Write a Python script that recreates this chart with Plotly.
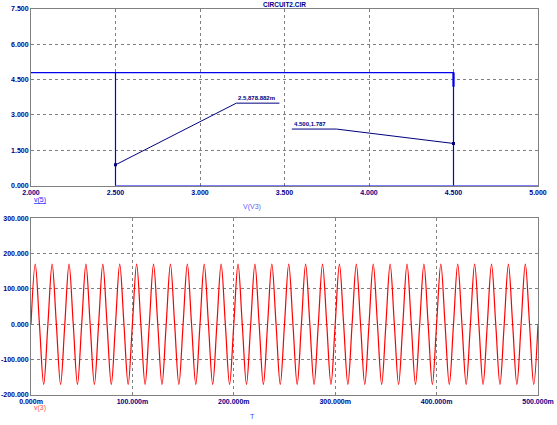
import plotly.graph_objects as go

# ---------------- data ----------------
# top plot: v(5) vs V(V3) (hysteresis loop)
loop_x = [2.0, 4.5, 4.5, 5.0, 2.5, 2.5, 2.0]
loop_y = [4.8, 4.8, 0.0, 0.0, 0.0, 4.8, 4.8]
edge_x = [4.5, 4.5]
edge_y = [4.8, 4.2]

cursor_x = [2.5, 4.5]
cursor_y = [0.878882, 1.787]
cursor_text = ["2.5,878.882m", "4.500,1.787"]
leader_x = [[2.5, 3.215, 3.47], [4.5, 3.807, 3.543]]
leader_y = [[0.878882, 3.5, 3.5], [1.787, 2.40, 2.40]]

top_xticks = [2.0, 2.5, 3.0, 3.5, 4.0, 4.5, 5.0]
top_xtext = ["2.000", "2.500", "3.000", "3.500", "4.000", "4.500", "5.000"]
top_yticks = [0.0, 1.5, 3.0, 4.5, 6.0, 7.5]
top_ytext = ["0.000", "1.500", "3.000", "4.500", "6.000", "7.500"]

# bottom plot: v(3) vs T  (peaks / zero crossings)
t_ms = [
    0, 4.17, 8.33, 12.5, 16.67, 20.83,
    25, 29.17, 33.33, 37.5, 41.67, 45.83,
    50, 54.17, 58.33, 62.5, 66.67, 70.83,
    75, 79.17, 83.33, 87.5, 91.67, 95.83,
    100, 104.17, 108.33, 112.5, 116.67, 120.83,
    125, 129.17, 133.33, 137.5, 141.67, 145.83,
    150, 154.17, 158.33, 162.5, 166.67, 170.83,
    175, 179.17, 183.33, 187.5, 191.67, 195.83,
    200, 204.17, 208.33, 212.5, 216.67, 220.83,
    225, 229.17, 233.33, 237.5, 241.67, 245.83,
    250, 254.17, 258.33, 262.5, 266.67, 270.83,
    275, 279.17, 283.33, 287.5, 291.67, 295.83,
    300, 304.17, 308.33, 312.5, 316.67, 320.83,
    325, 329.17, 333.33, 337.5, 341.67, 345.83,
    350, 354.17, 358.33, 362.5, 366.67, 370.83,
    375, 379.17, 383.33, 387.5, 391.67, 395.83,
    400, 404.17, 408.33, 412.5, 416.67, 420.83,
    425, 429.17, 433.33, 437.5, 441.67, 445.83,
    450, 454.17, 458.33, 462.5, 466.67, 470.83,
    475, 479.17, 483.33, 487.5, 491.67, 495.83,
    500,
]
v3 = [
    0, 170, 0, -170, 0, 170, 0, -170, 0, 170, 0, -170,
    0, 170, 0, -170, 0, 170, 0, -170, 0, 170, 0, -170,
    0, 170, 0, -170, 0, 170, 0, -170, 0, 170, 0, -170,
    0, 170, 0, -170, 0, 170, 0, -170, 0, 170, 0, -170,
    0, 170, 0, -170, 0, 170, 0, -170, 0, 170, 0, -170,
    0, 170, 0, -170, 0, 170, 0, -170, 0, 170, 0, -170,
    0, 170, 0, -170, 0, 170, 0, -170, 0, 170, 0, -170,
    0, 170, 0, -170, 0, 170, 0, -170, 0, 170, 0, -170,
    0, 170, 0, -170, 0, 170, 0, -170, 0, 170, 0, -170,
    0, 170, 0, -170, 0, 170, 0, -170, 0, 170, 0, -170,
    0,
]
bot_xticks = [0.0, 0.1, 0.2, 0.3, 0.4, 0.5]
bot_xtext = ["0.000m", "100.000m", "200.000m", "300.000m", "400.000m", "500.000m"]
bot_yticks = [-200, -100, 0, 100, 200, 300]
bot_ytext = ["-200.000", "-100.000", "0.000", "100.000", "200.000", "300.000"]

# ---------------- figure ----------------
W, H = 557, 425
L, R, T, B = 31.3, 18.7, 9.3, 30
PH = H - T - B
PW = W - L - R


def px(x):
    return (x - L) / PW


def py(y):
    return (H - B - y) / PH


NAVY = "#00008B"
TICKFONT = dict(family="Liberation Sans", size=7, color=NAVY, weight="bold")

fig = go.Figure()

fig.add_trace(go.Scatter(x=loop_x, y=loop_y, mode="lines",
                         line=dict(color="#0000EE", width=1.2),
                         xaxis="x", yaxis="y", showlegend=False))
fig.add_trace(go.Scatter(x=edge_x, y=edge_y, mode="lines",
                         line=dict(color="#0000EE", width=2.2),
                         xaxis="x", yaxis="y", showlegend=False))
for lx, ly in zip(leader_x, leader_y):
    fig.add_trace(go.Scatter(x=lx, y=ly, mode="lines",
                             line=dict(color="#000080", width=1),
                             xaxis="x", yaxis="y", showlegend=False))
fig.add_trace(go.Scatter(x=cursor_x, y=cursor_y, mode="markers",
                         marker=dict(symbol="square", size=3, color="#000080"),
                         xaxis="x", yaxis="y", showlegend=False))

fig.add_trace(go.Scatter(x=[t / 1000 for t in t_ms], y=v3, mode="lines",
                         line=dict(color="#FF0000", width=1.2, shape="spline", smoothing=1.0),
                         xaxis="x2", yaxis="y2", showlegend=False))

axis_common = dict(showline=True, mirror=True, linecolor="#808080", linewidth=1,
                   showgrid=True, gridcolor="#808080", gridwidth=1, griddash="3px,3px",
                   zeroline=False, ticks="", tickfont=TICKFONT, automargin=False)

top_dom = [py(185.7), 1.0]
bot_dom = [0.0, py(218.3)]

fig.update_layout(
    width=W, height=H,
    margin=dict(l=L, r=R, t=T, b=B, autoexpand=False),
    paper_bgcolor="white", plot_bgcolor="white",
    xaxis=dict(domain=[0, 1], range=[2, 5], tickvals=top_xticks, ticktext=top_xtext,
               anchor="y", **axis_common),
    yaxis=dict(domain=top_dom, range=[0, 7.5], tickvals=top_yticks, ticktext=top_ytext,
               anchor="x", **axis_common),
    xaxis2=dict(domain=[0, 1], range=[0, 0.5], tickvals=bot_xticks, ticktext=bot_xtext,
                anchor="y2", **axis_common),
    yaxis2=dict(domain=bot_dom, range=[-200, 300], tickvals=bot_yticks, ticktext=bot_ytext,
                anchor="x2", **axis_common),
)

ann = []
ann.append(dict(text="CIRCUIT2.CIR", x=px(285), y=py(4.5), xref="paper", yref="paper",
                showarrow=False, xanchor="center", yanchor="middle",
                font=dict(family="Liberation Sans", size=6.5, color=NAVY, weight="bold")))
ann.append(dict(text="<u>v(5)</u>", x=px(32), y=py(200), xref="paper", yref="paper",
                showarrow=False, xanchor="left", yanchor="middle",
                font=dict(family="Liberation Sans", size=7, color="#2020FF")))
ann.append(dict(text="V(V3)", x=px(252), y=py(207), xref="paper", yref="paper",
                showarrow=False, xanchor="center", yanchor="middle",
                font=dict(family="Liberation Sans", size=7, color="#6060FF")))
ann.append(dict(text="v(3)", x=px(32), y=py(408), xref="paper", yref="paper",
                showarrow=False, xanchor="left", yanchor="middle",
                font=dict(family="Liberation Sans", size=7, color="#FF5050")))
ann.append(dict(text="T", x=px(253), y=py(416), xref="paper", yref="paper",
                showarrow=False, xanchor="center", yanchor="middle",
                font=dict(family="Liberation Sans", size=7, color="#4040FF")))
for lx, ly, txt in zip(leader_x, leader_y, cursor_text):
    ann.append(dict(text=txt, x=min(lx[1], lx[2]), y=ly[1], xref="x", yref="y",
                    showarrow=False, xanchor="left", yanchor="bottom", yshift=0,
                    font=dict(family="Liberation Sans", size=6, color="#000080", weight="bold")))
fig.update_layout(annotations=ann)

fig.write_html("out.html", config={"displayModeBar": False},
               post_script="document.body.style.margin='0';document.body.style.overflow='hidden';")
